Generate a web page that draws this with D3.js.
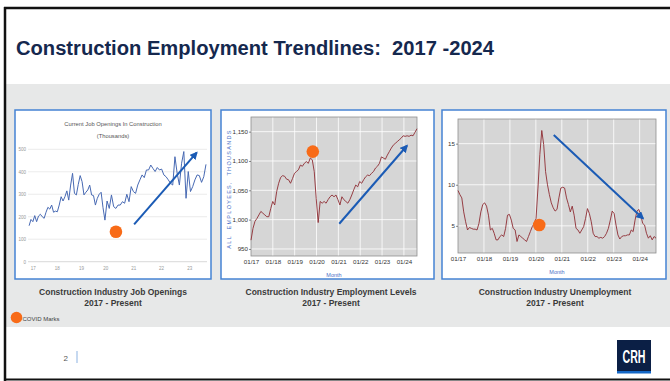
<!DOCTYPE html>
<html>
<head>
<meta charset="utf-8">
<script src="https://cdn.jsdelivr.net/npm/d3@7"></script>
<style>
  body { margin: 0; background: #fff; }
  svg { display: block; }
  text { white-space: pre; }
</style>
</head>
<body>
<div class="slide"></div>
<script>
"use strict"

// job openings in construction (thousands), roughly monthly
const jobValues = [160,188,178,205,178,203,211,200,193,220,242,234,252,220,225,222,252,289,270,289,
  315,274,341,393,304,297,344,383,356,297,309,319,341,297,294,252,282,300,309,240,
  185,270,237,297,245,237,252,252,267,260,300,267,334,312,304,341,364,386,374,408,
  408,430,415,401,419,408,412,386,378,364,349,341,467,393,341,438,490,282,401,312,
  334,364,386,383,353,378,433];
const jobSpan = [2016.85, 2023.59];
const jobYears = [2017, 2018, 2019, 2020, 2021, 2022, 2023];
const jobYTicks = [0, 100, 200, 300, 400, 500];

// all employees, thousands, monthly 01/17 -> mid 2024
const empValues = [965,985,997,1002,1008,1014,1011,1008,1005,1005,1019,1031,1025,1048,1062,1072,1075,1074,1069,1068,
  1062,1070,1079,1082,1085,1093,1091,1096,1099,1096,1105,1102,1082,1036,995,1031,1028,1031,1028,1034,
  1039,1042,1039,1042,1034,1025,1039,1034,1031,1028,1034,1042,1051,1059,1056,1065,1062,1068,1073,1076,
  1075,1079,1082,1088,1091,1096,1107,1105,1103,1110,1116,1122,1127,1130,1133,1136,1139,1143,1142,1143,
  1142,1144,1143,1149,1155];
const empSpan = [2017, 2024.6];
const empYTicks = [950, 1000, 1050, 1100, 1150];

// unemployment rate (%), monthly 01/17 -> mid 2024
const unempValues = [9.3,8.8,8.4,6.7,5.5,4.5,4.8,4.7,4.6,4.6,4.5,5.3,6.7,7.6,7.8,7.4,6.3,4.5,4.7,4.1,
  3.3,3.3,3.7,3.9,3.7,4.7,6.3,6.4,5.7,4.7,4.5,3.1,3.9,3.7,3.5,3.3,3.1,3.7,4.3,4.9,
  5.3,5.9,9.6,13.7,16.6,14.9,11.6,10.0,8.8,7.8,7.2,6.8,7.0,8.4,9.6,9.7,9.6,8.4,7.6,6.7,
  7.4,6.3,4.7,4.5,4.1,4.5,4.9,5.9,7.1,6.5,5.5,4.1,3.7,3.7,3.5,3.6,3.5,3.7,4.1,4.7,
  5.7,6.8,6.5,5.1,3.9,3.4,3.7,3.8,3.8,3.9,3.9,4.5,4.3,5.7,6.8,7.0,6.3,5.3,5.1,4.1,
  3.5,3.8,3.3,3.7,3.5];
const unempSpan = [2017, 2024.63];
const unempYTicks = [5, 10, 15];

const monthYears = [2017, 2018, 2019, 2020, 2021, 2022, 2023, 2024];

// covid marks and trend arrows, in each chart's own units [year, value]
const covidMarks = [[2020.38, 133], [2019.83, 1116], [2020.13, 5.1]];
const trendArrows = [
  [[2021.03, 166], [2023.26, 485]],
  [[2021.04, 993], [2024.14, 1126]],
  [[2020.69, 16.05], [2024.13, 5.9]]
];
const captions = ["Construction Industry Job Openings", "Construction Industry Employment Levels", "Construction Industry Unemployment"];

const W = 670, H = 381;
const orange = "#f86b18", arrowBlue = "#1b5bb5", panelBlue = "#4583d3";
const tickFont = "'Liberation Sans', Arial, sans-serif";

let svg = d3.select(".slide").append("svg")
  .attr("width", W).attr("height", H)
  .style("font-family", "'Liberation Sans', Arial, sans-serif");

let defs = svg.append("defs");
defs.append("marker")
  .attr("id", "head")
  .attr("viewBox", "0 0 10 10")
  .attr("refX", 8).attr("refY", 5)
  .attr("markerWidth", 4).attr("markerHeight", 4)
  .attr("orient", "auto")
  .append("path").attr("d", "M0,0 L10,5 L0,10 Z").attr("fill", arrowBlue);

// gray band
svg.append("rect").attr("x", 5).attr("y", 84).attr("width", W).attr("height", 243).attr("fill", "#e7e8e8");

// title
svg.append("text").attr("x", 16).attr("y", 55)
  .attr("font-size", 19.5).attr("font-weight", "bold").attr("fill", "#15284e")
  .attr("textLength", 478).attr("lengthAdjust", "spacingAndGlyphs")
  .text("Construction Employment Trendlines:  2017 -2024");

// panel frames
const panels = [[15, 211], [221, 434], [442, 666]];
panels.forEach(function (p, i) {
  svg.append("rect").attr("x", p[0]).attr("y", 110).attr("width", p[1] - p[0]).attr("height", 169)
    .attr("fill", "#fff");
  defs.append("clipPath").attr("id", "clip" + i)
    .append("rect").attr("x", p[0]).attr("y", 110).attr("width", p[1] - p[0]).attr("height", 169);
});

function styleAxis(g, size, color) {
  g.select(".domain").remove();
  g.selectAll("text").attr("font-family", tickFont).attr("font-size", size).attr("fill", color);
  g.selectAll("line").attr("stroke", "#444").attr("stroke-width", 0.6);
}

function drawArrow(g, x, y, a) {
  g.append("line")
    .attr("x1", x(a[0][0])).attr("y1", y(a[0][1]))
    .attr("x2", x(a[1][0])).attr("y2", y(a[1][1]))
    .attr("stroke", arrowBlue).attr("stroke-width", 2)
    .attr("marker-end", "url(#head)");
}

// ---------- panel 1: job openings ----------
{
  let g = svg.append("g").attr("clip-path", "url(#clip0)");
  let x = d3.scaleLinear().domain(jobYears).range([32.7, 56.7, 81, 105.3, 133.3, 161, 189.3]);
  let y = d3.scaleLinear().domain([0, 500]).range([261.7, 149.3]);
  let idx = d3.scaleLinear().domain([0, jobValues.length - 1]).range(jobSpan);

  g.append("text").attr("x", 113).attr("y", 126).attr("text-anchor", "middle")
    .attr("font-size", 5.8).attr("fill", "#555").text("Current Job Openings In Construction");
  g.append("text").attr("x", 113).attr("y", 138).attr("text-anchor", "middle")
    .attr("font-size", 5.8).attr("fill", "#555").text("(Thousands)");

  g.selectAll(".grid").data(jobYTicks).enter().append("line")
    .attr("x1", 28).attr("x2", 207)
    .attr("y1", function (d) { return y(d); }).attr("y2", function (d) { return y(d); })
    .attr("stroke", function (d) { return d == 0 ? "#c8c8c8" : "#e2e2e2"; })
    .attr("stroke-width", 0.7);

  let ya = g.append("g").attr("transform", "translate(26,0)")
    .call(d3.axisLeft(y).tickValues(jobYTicks).tickSize(0).tickPadding(0));
  styleAxis(ya, 4.5, "#999");
  let xa = g.append("g").attr("transform", "translate(0,265)")
    .call(d3.axisBottom(x).tickValues(jobYears).tickSize(0).tickPadding(2)
      .tickFormat(function (d) { return String(d).slice(2); }));
  styleAxis(xa, 4.5, "#999");

  g.append("path").datum(jobValues)
    .attr("fill", "none").attr("stroke", "#4769b3").attr("stroke-width", 1)
    .attr("d", d3.line().x(function (d, i) { return x(idx(i)); }).y(function (d) { return y(d); }));

  drawArrow(g, x, y, trendArrows[0]);
  g.append("circle").attr("cx", x(covidMarks[0][0])).attr("cy", y(covidMarks[0][1])).attr("r", 6.3).attr("fill", orange);
}

// ---------- panels 2 & 3: FRED style ----------
function fredPanel(i, values, span, yTicks, yDomain, plot, yFormat) {
  let g = svg.append("g").attr("clip-path", "url(#clip" + i + ")");
  let x = d3.scaleLinear().domain([2017, span[1]]).range([plot.x0, plot.x1]);
  let y = d3.scaleLinear().domain(yDomain).range([plot.y1, plot.y0]);
  let idx = d3.scaleLinear().domain([0, values.length - 1]).range(span);

  g.append("rect").attr("x", plot.x0).attr("y", plot.y0)
    .attr("width", plot.x1 - plot.x0).attr("height", plot.y1 - plot.y0)
    .attr("fill", "#d6d6d6");

  g.selectAll(".vg").data(monthYears.slice(1)).enter().append("line")
    .attr("x1", function (d) { return x(d); }).attr("x2", function (d) { return x(d); })
    .attr("y1", plot.y0).attr("y2", plot.y1)
    .attr("stroke", "#fff").attr("stroke-width", 0.8);
  g.selectAll(".hg").data(yTicks).enter().append("line")
    .attr("x1", plot.x0).attr("x2", plot.x1)
    .attr("y1", function (d) { return y(d); }).attr("y2", function (d) { return y(d); })
    .attr("stroke", "#fff").attr("stroke-width", 0.8);

  g.append("rect").attr("x", plot.x0).attr("y", plot.y0)
    .attr("width", plot.x1 - plot.x0).attr("height", plot.y1 - plot.y0)
    .attr("fill", "none").attr("stroke", "#8f8f8f").attr("stroke-width", 0.8);

  let ya = g.append("g").attr("transform", "translate(" + plot.x0 + ",0)")
    .call(d3.axisLeft(y).tickValues(yTicks).tickSize(2).tickPadding(1).tickFormat(yFormat));
  styleAxis(ya, 6.2, "#333");
  let xa = g.append("g").attr("transform", "translate(0," + plot.y1 + ")")
    .call(d3.axisBottom(x).tickValues(monthYears).tickSize(0).tickPadding(4)
      .tickFormat(function (d) { return "01/" + String(d).slice(2); }));
  styleAxis(xa, 6.2, "#333");

  g.append("text").attr("x", (plot.x0 + plot.x1) / 2).attr("y", plot.y1 + 21)
    .attr("text-anchor", "middle").attr("font-size", 5.5).attr("fill", "#4a70c6")
    .attr("font-family", tickFont).text("Month");

  g.append("path").datum(values)
    .attr("fill", "none").attr("stroke", "#8e2c33").attr("stroke-width", 0.9)
    .attr("d", d3.line().x(function (d, i) { return x(idx(i)); }).y(function (d) { return y(d); }));

  drawArrow(g, x, y, trendArrows[i]);
  g.append("circle").attr("cx", x(covidMarks[i][0])).attr("cy", y(covidMarks[i][1])).attr("r", 6.3).attr("fill", orange);
  return g;
}

let g2 = fredPanel(1, empValues, empSpan, empYTicks, [938, 1175], { x0: 251, x1: 417, y0: 117, y1: 256 }, d3.format(","));
g2.append("text")
  .attr("transform", "translate(231,189) rotate(-90)")
  .attr("text-anchor", "middle").attr("font-size", 5.5).attr("fill", "#4a70c6")
  .attr("letter-spacing", 1.3).attr("font-family", tickFont)
  .text("ALL  EMPLOYEES,  THOUSANDS");

fredPanel(2, unempValues, unempSpan, unempYTicks, [1.7, 18], { x0: 458, x1: 656, y0: 119, y1: 253 }, d3.format("d"));

panels.forEach(function (p) {
  svg.append("rect").attr("x", p[0]).attr("y", 110).attr("width", p[1] - p[0]).attr("height", 169)
    .attr("fill", "none").attr("stroke", panelBlue).attr("stroke-width", 1.5);
});

// captions
const captionX = [113, 331, 555];
captions.forEach(function (c, i) {
  let t = svg.append("text").attr("x", captionX[i]).attr("y", 295)
    .attr("text-anchor", "middle").attr("font-size", 8.5).attr("font-weight", "bold").attr("fill", "#3a3a3a");
  t.append("tspan").attr("x", captionX[i]).text(c);
  t.append("tspan").attr("x", captionX[i]).attr("dy", 11).text("2017 - Present");
});

// covid legend
svg.append("circle").attr("cx", 16.5).attr("cy", 317.5).attr("r", 5.8).attr("fill", orange);
svg.append("text").attr("x", 22.5).attr("y", 320.5).attr("font-size", 6).attr("fill", "#444").text("COVID Marks");

// page number
svg.append("text").attr("x", 68).attr("y", 361).attr("text-anchor", "end").attr("font-size", 8).attr("fill", "#555").text("2");
svg.append("line").attr("x1", 77).attr("x2", 77).attr("y1", 351).attr("y2", 363).attr("stroke", "#8db3e2").attr("stroke-width", 1);

// logo
svg.append("rect").attr("x", 617).attr("y", 340).attr("width", 34).attr("height", 31).attr("fill", "#0b1f45");
svg.append("rect").attr("x", 617).attr("y", 371).attr("width", 34).attr("height", 2.5).attr("fill", "#1467c6");
svg.append("text").attr("x", 634).attr("y", 362.5).attr("text-anchor", "middle")
  .attr("font-size", 19).attr("font-weight", "bold").attr("fill", "#fff")
  .attr("textLength", 23).attr("lengthAdjust", "spacingAndGlyphs").text("CRH");

// slide frame
svg.append("line").attr("x1", 4).attr("x2", W).attr("y1", 8).attr("y2", 8).attr("stroke", "#111").attr("stroke-width", 2.5);
svg.append("line").attr("x1", 5).attr("x2", 5).attr("y1", 7).attr("y2", H).attr("stroke", "#111").attr("stroke-width", 2.5);
svg.append("line").attr("x1", 4).attr("x2", W).attr("y1", 379.5).attr("y2", 379.5).attr("stroke", "#111").attr("stroke-width", 2);
</script>
</body>
</html>
